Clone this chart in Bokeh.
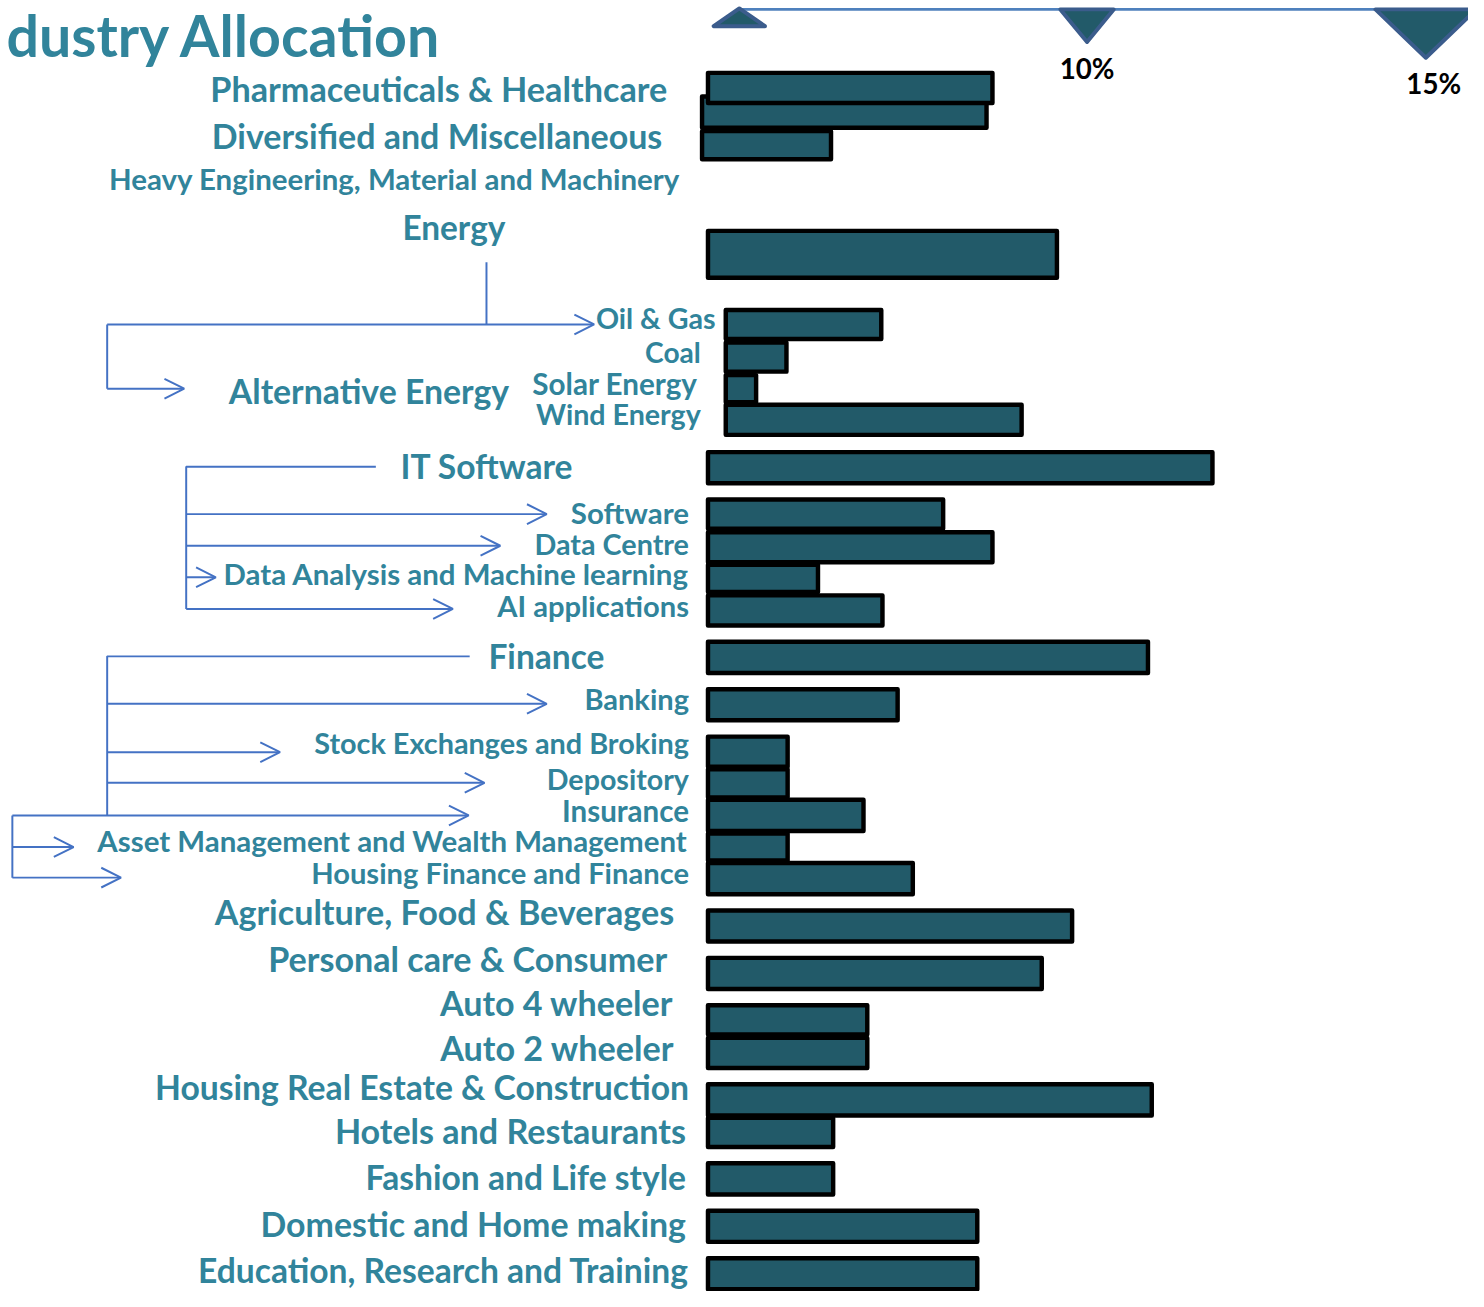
from bokeh.plotting import figure
from bokeh.models import Range1d, ColumnDataSource, Arrow, OpenHead
from bokeh.core.properties import value
from bokeh.embed import file_html
from bokeh.resources import INLINE

# ---------------- data ----------------
title = "dustry Allocation"
categories = [
    "Pharmaceuticals & Healthcare",
    "Diversified and Miscellaneous",
    "Heavy Engineering, Material and Machinery",
    "Energy",
    "Oil & Gas",
    "Coal",
    "Solar  Energy",
    "Wind Energy",
    "IT Software",
    "Software",
    "Data Centre",
    "Data Analysis and Machine learning",
    "AI applications",
    "Finance",
    "Banking",
    "Stock Exchanges and Broking",
    "Depository",
    "Insurance",
    "Asset Management and Wealth Management",
    "Housing Finance and Finance",
    "Agriculture, Food & Beverages",
    "Personal care & Consumer",
    "Auto 4 wheeler",
    "Auto 2 wheeler",
    "Housing Real Estate & Construction",
    "Hotels and Restaurants",
    "Fashion and Life style",
    "Domestic and Home making",
    "Education, Research and Training",
]
values = [7.5, 7.5, 3.4, 9.2, 4.1, 1.6, 0.8, 7.8, 13.3, 6.2, 7.5, 2.9, 4.6,
          11.6, 5.0, 2.1, 2.1, 4.1, 2.1, 5.4, 9.6, 8.8, 4.2, 4.2, 11.7,
          3.3, 3.3, 7.1, 7.1]
group_label = "Alternative Energy"
tick_labels = ["", "10%", "15%"]

# ---------------- layout (reference pixel coordinates) ----------------
REF_W, REF_H = 1484, 1307
W, H = 1468, 1291
S = min(W / REF_W, H / REF_H)          # uniform scale to fit the window
PX_ZERO = 716.0                          # x pixel of 0 %
PX_PER_PCT = 38.4                        # pixels per percentage point

bar_top = [71, 95, 130, 231, 311, 344, 377, 407, 455, 503, 536, 569, 600,
           647, 695, 743, 776, 807, 841, 871, 919, 967, 1015, 1048, 1095,
           1129, 1175, 1223, 1271]
bar_bottom = [106, 131, 163, 283, 345, 378, 409, 442, 491, 537, 571, 601, 635,
              683, 731, 778, 809, 843, 873, 907, 955, 1003, 1049, 1083, 1131,
              1163, 1211, 1259, 1307]
bar_left_px = [714, 708, 708, 714, 732, 732, 732, 732] + [714] * 21
LW = 4.5

label_x = [675, 670, 688, 459, 724, 709, 713, 709, 405, 697, 697, 697, 697,
           494, 697, 697, 697, 697, 695, 697, 682, 675, 681, 682, 697,
           694, 694, 694, 697]
label_mid = [89, 137, 180, 229, 321, 356, 388, 419, 471, 518, 550, 580, 613,
             664, 707, 752, 788, 820, 850, 883, 922, 970, 1014, 1060, 1100,
             1144, 1191, 1239, 1285]
label_size = [34.6, 34.4, 29.8, 33.8, 29, 28.5, 30, 29, 34, 29.8, 29.1, 29.8, 29.5,
              33.9, 29.4, 29.2, 29, 29.9, 29.8, 29.5, 34.5, 34.5, 34.5, 34.6, 34.1,
              34.5, 34, 34.3, 34]
label_align = ["right", "right", "right", "center", "right", "right", "right",
               "right", "left", "right", "right", "right", "right",
               "left"] + ["right"] * 15

TEAL_TEXT = "#31849B"
BAR_FILL = "#225A69"
LINK = "#4472C4"
FONT = value("Lato")

def fs(px):
    return f"{px * S:.2f}px"

p = figure(width=W, height=H,
           x_range=Range1d(-PX_ZERO / PX_PER_PCT, (W / S - PX_ZERO) / PX_PER_PCT),
           y_range=Range1d(H / S, 0),
           output_backend="svg", toolbar_location=None, min_border=0,
           x_axis_type=None, y_axis_type=None)
p.extra_x_ranges = {"px": Range1d(0, W / S)}
p.outline_line_color = None
p.background_fill_color = "white"
p.border_fill_color = "white"

# ---- top scale line and triangles ----
p.line(x=[748, REF_W + 20], y=[9, 9], x_range_name="px", line_color="#4F81BD", line_width=3 * S)
tick_px = [748, 1100, 1443]
tri_half = [26, 27, 51]
tri_base_y = [26, 9, 9]
tri_apex_y = [8, 42, 58]
xs = [[x - hw, x + hw, x] for x, hw in zip(tick_px, tri_half)]
ys = [[b, b, a] for b, a in zip(tri_base_y, tri_apex_y)]
p.patches(xs=xs, ys=ys, x_range_name="px", fill_color=BAR_FILL,
          line_color="#3B5C8C", line_width=4 * S, line_join="round")
tick_mid = [0, 68.5, 84.5]
tick_lab_x = [748, 1100, 1451]
p.text(x=tick_lab_x[1:], y=tick_mid[1:], text=tick_labels[1:], x_range_name="px",
       text_font=FONT, text_font_style="bold", text_font_size=fs(28),
       text_color="black", text_align="center", text_baseline="middle")

# ---- title ----
p.text(x=[6], y=[34], text=[title], x_range_name="px",
       text_font=FONT, text_font_style="bold", text_font_size=fs(58),
       text_color=TEAL_TEXT, text_align="left", text_baseline="middle")

# ---- bars ----
left = [(l + LW / 2 - PX_ZERO) / PX_PER_PCT for l in bar_left_px]
right = [l + v for l, v in zip(left, values)]
yc = [(t + b) / 2 for t, b in zip(bar_top, bar_bottom)]
hh = [b - t - LW for t, b in zip(bar_top, bar_bottom)]
order = list(range(len(values)))[::-1]
bars = ColumnDataSource(dict(
    y=[yc[i] for i in order], h=[hh[i] for i in order],
    left=[left[i] for i in order], right=[right[i] for i in order],
    name=[categories[i] for i in order], v=[values[i] for i in order]))
p.hbar(y="y", height="h", left="left", right="right", source=bars,
       fill_color=BAR_FILL, line_color="black", line_width=LW * S, line_join="round")

# ---- category labels ----
labels = ColumnDataSource(dict(
    x=label_x + [373], y=label_mid + [395], text=categories + [group_label],
    size=[fs(s) for s in label_size] + [fs(34.2)],
    align=label_align + ["center"]))
p.text(x="x", y="y", text="text", source=labels, x_range_name="px",
       text_font=FONT, text_font_style="bold", text_font_size="size",
       text_color=TEAL_TEXT, text_align="align", text_baseline="middle")

# ---- connector lines ----
link_xs = [[492, 492], [108, 108], [380, 188, 188], [475, 108, 108], [12, 12]]
link_ys = [[265, 328], [328, 393], [472, 472, 616], [664, 664, 825], [825, 888]]
p.multi_line(xs=link_xs, ys=link_ys, x_range_name="px", line_color=LINK, line_width=2 * S)

arrow_x0 = [108, 108, 188, 188, 188, 188, 108, 108, 108, 12, 12, 12]
arrow_y = [328, 393, 520, 552, 584, 616, 712, 761, 792, 825, 857, 888]
arrow_x1 = [601, 186, 553, 506, 218, 458, 553, 283, 490, 474, 74, 122]
arrows = ColumnDataSource(dict(x0=arrow_x0, y0=arrow_y, x1=arrow_x1, y1=arrow_y))
p.add_layout(Arrow(source=arrows, x_start="x0", y_start="y0", x_end="x1", y_end="y1",
                   x_range_name="px", line_color=LINK, line_width=2 * S,
                   end=OpenHead(size=20 * S, line_color=LINK, line_width=2 * S)))

open("out.html", "w").write(file_html(p, INLINE))
